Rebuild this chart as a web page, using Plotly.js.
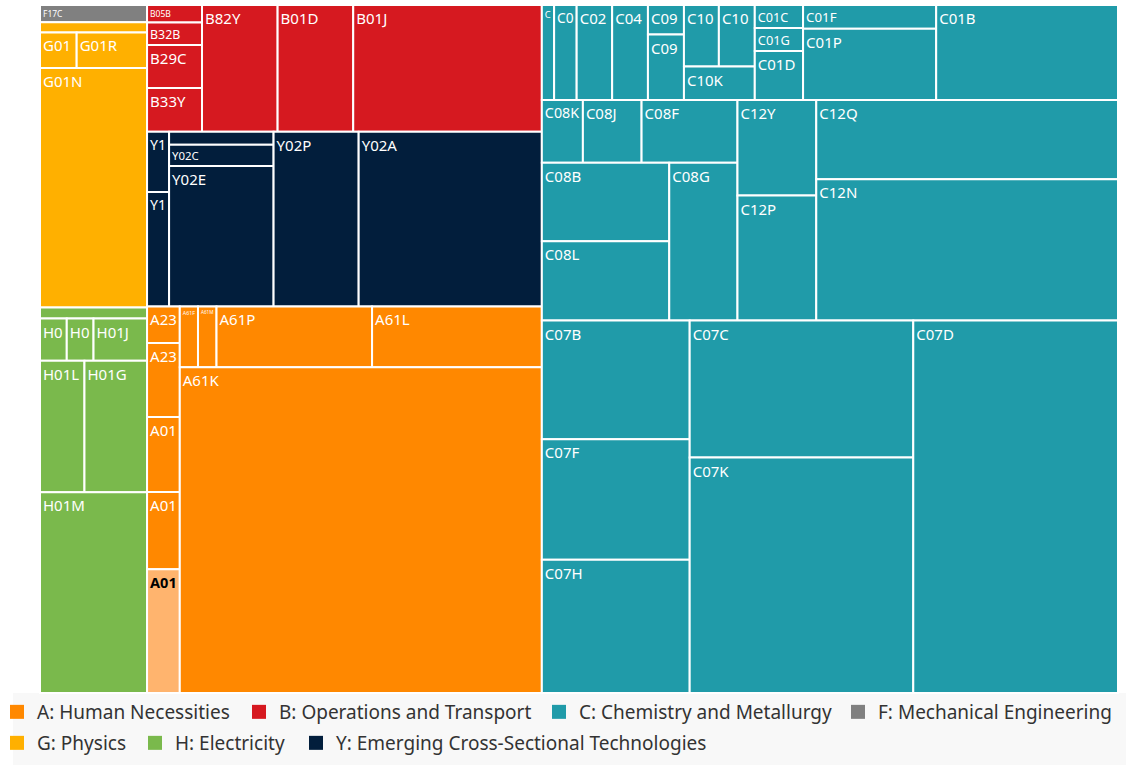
<!DOCTYPE html>
<html>
<head>
<meta charset="utf-8">
<script src="https://cdn.plot.ly/plotly-3.0.1.min.js"></script>
<style>
html, body { margin: 0; padding: 0; background: #ffffff; }
#chart { width: 1126px; height: 765px; }
</style>
</head>
<body>
<div id="chart"></div>
<script>
// ---- Sections (top level), listed in ascending size ----
const sectionIds = ['F', 'G', 'H', 'B', 'Y', 'A', 'C'];
const sectionNames = {
  A: 'A: Human Necessities',
  B: 'B: Operations and Transport',
  C: 'C: Chemistry and Metallurgy',
  F: 'F: Mechanical Engineering',
  G: 'G: Physics',
  H: 'H: Electricity',
  Y: 'Y: Emerging Cross-Sectional Technologies'
};
const legendRows = [['A', 'B', 'C', 'F'], ['G', 'H', 'Y']];

// ---- Classes (second level) ----
const classIds = ['F17', 'G-a', 'G01', 'H-a', 'H01', 'B05', 'B32', 'B29', 'B33', 'B82', 'B01',
  'Y10', 'Y02', 'A23', 'A01', 'A61',
  'C-a', 'C-b', 'C02', 'C04', 'C09', 'C10', 'C01', 'C08', 'C12', 'C07'];
const classParents = ['F', 'G', 'G', 'H', 'H', 'B', 'B', 'B', 'B', 'B', 'B',
  'Y', 'Y', 'A', 'A', 'A',
  'C', 'C', 'C', 'C', 'C', 'C', 'C', 'C', 'C', 'C'];

// ---- Subclasses (leaves) ----
const leafIds = [
  'F17C',
  'G-a1', 'G01-1', 'G01R', 'G01N',
  'H-a1', 'H01-1', 'H01-2', 'H01J', 'H01L', 'H01G', 'H01M',
  'B05B', 'B32B', 'B29C', 'B33Y', 'B82Y', 'B01D', 'B01J',
  'Y10-1', 'Y10-2', 'Y02-a', 'Y02C', 'Y02E', 'Y02P', 'Y02A',
  'A23-1', 'A23-2', 'A01-1', 'A01-2', 'A01-3', 'A61F', 'A61M', 'A61P', 'A61L', 'A61K',
  'C-a1', 'C-b1', 'C02-1', 'C04-1', 'C09-1', 'C09-2', 'C10-1', 'C10-2', 'C10K',
  'C01C', 'C01G', 'C01D', 'C01F', 'C01P', 'C01B',
  'C08K', 'C08J', 'C08F', 'C08B', 'C08L', 'C08G',
  'C12Y', 'C12P', 'C12Q', 'C12N',
  'C07B', 'C07F', 'C07H', 'C07C', 'C07K', 'C07D'
];
const leafLabels = [
  'F17C',
  '', 'G01', 'G01R', 'G01N',
  '', 'H0', 'H0', 'H01J', 'H01L', 'H01G', 'H01M',
  'B05B', 'B32B', 'B29C', 'B33Y', 'B82Y', 'B01D', 'B01J',
  'Y1', 'Y1', '', 'Y02C', 'Y02E', 'Y02P', 'Y02A',
  'A23', 'A23', 'A01', 'A01', 'A01', 'A61F', 'A61M', 'A61P', 'A61L', 'A61K',
  'C', 'C0', 'C02', 'C04', 'C09', 'C09', 'C10', 'C10', 'C10K',
  'C01C', 'C01G', 'C01D', 'C01F', 'C01P', 'C01B',
  'C08K', 'C08J', 'C08F', 'C08B', 'C08L', 'C08G',
  'C12Y', 'C12P', 'C12Q', 'C12N',
  'C07B', 'C07F', 'C07H', 'C07C', 'C07K', 'C07D'
];
const leafParents = [
  'F17',
  'G-a', 'G01', 'G01', 'G01',
  'H-a', 'H01', 'H01', 'H01', 'H01', 'H01', 'H01',
  'B05', 'B32', 'B29', 'B33', 'B82', 'B01', 'B01',
  'Y10', 'Y10', 'Y02', 'Y02', 'Y02', 'Y02', 'Y02',
  'A23', 'A23', 'A01', 'A01', 'A01', 'A61', 'A61', 'A61', 'A61', 'A61',
  'C-a', 'C-b', 'C02', 'C04', 'C09', 'C09', 'C10', 'C10', 'C10',
  'C01', 'C01', 'C01', 'C01', 'C01', 'C01',
  'C08', 'C08', 'C08', 'C08', 'C08', 'C08',
  'C12', 'C12', 'C12', 'C12',
  'C07', 'C07', 'C07', 'C07', 'C07', 'C07'
];
const leafValues = [
  1840,
  1080, 1295, 2485, 25490,
  1190, 1120, 1120, 2240, 5810, 8180, 21380,
  950, 1230, 2360, 2380, 9520, 9520, 23750,
  1320, 2510, 1365, 2205, 14595, 14790, 31840,
  1190, 2410, 2440, 2510, 4030, 1100, 1120, 9400, 10260, 117260,
  1160, 2130, 3350, 3380, 1060, 2340, 2140, 2200, 2350,
  1100, 1110, 2350, 3140, 9430, 17170,
  2560, 3660, 5980, 9950, 10050, 10710,
  7490, 9790, 23810, 42370,
  17460, 17700, 19590, 30440, 52350, 75810
];
const highlightedLeaf = 'A01-3';

// ---- Styles ----
const sectionColors = {
  A: '#FF8800', B: '#D61920', C: '#209BA9', F: '#808080',
  G: '#FFB000', H: '#7AB94C', Y: '#021E3C'
};
const highlightColor = '#FFB46E';
// legend entry anchor positions (px) in the page, per section
const legendPos = { A: [4, 693], B: [246, 693], C: [546, 693], F: [845, 693], G: [4, 724], H: [142, 724], Y: [303, 724] };

// ---- Build node arrays ----
const ids = [], labels = [], parents = [], values = [], texts = [], colors = [], textColors = [];
const sectionOf = {};
sectionIds.forEach(s => {
  sectionOf[s] = s;
  ids.push(s); labels.push(sectionNames[s]); parents.push(''); values.push(0);
  texts.push(''); colors.push(sectionColors[s]); textColors.push('#ffffff');
});
classIds.forEach((c, i) => {
  sectionOf[c] = classParents[i];
  ids.push(c); labels.push(c); parents.push(classParents[i]); values.push(0);
  texts.push(''); colors.push(sectionColors[classParents[i]]); textColors.push('#ffffff');
});
leafIds.forEach((l, i) => {
  const sec = sectionOf[leafParents[i]];
  const hi = l === highlightedLeaf;
  ids.push(l); labels.push(leafLabels[i]); parents.push(leafParents[i]); values.push(leafValues[i]);
  texts.push(hi ? '<b>' + leafLabels[i] + '</b>' : leafLabels[i]);
  colors.push(hi ? highlightColor : sectionColors[sec]);
  textColors.push(hi ? '#000000' : '#ffffff');
});

const treemap = {
  type: 'treemap',
  ids: ids, labels: labels, parents: parents, values: values,
  branchvalues: 'remainder',
  sort: false,
  text: texts,
  textinfo: 'text',
  textposition: 'top left',
  textfont: { family: 'Noto Sans, sans-serif', size: 15, color: textColors },
  marker: { colors: colors, line: { color: '#ffffff', width: 2 }, pad: { t: 0, l: 0, r: 0, b: 0 } },
  tiling: { packing: 'squarify', squarifyratio: 1.42, pad: 0 },
  pathbar: { visible: false },
  hoverinfo: 'label+value',
  domain: { x: [0, 1], y: [0, 1] },
  showlegend: false
};

const legendFont = { family: 'Noto Sans, sans-serif', size: 19, color: '#333333' };
const legendTraces = [];
const layout = {
  width: 1126, height: 765,
  margin: { l: 40, r: 8, t: 5, b: 72, pad: 0 },
  paper_bgcolor: '#ffffff',
  plot_bgcolor: 'rgba(0,0,0,0)',
  xaxis: { visible: false },
  yaxis: { visible: false },
  showlegend: true,
  shapes: [{
    type: 'rect', xref: 'paper', yref: 'paper', layer: 'below',
    x0: (13 - 40) / 1078, x1: (1126 - 40) / 1078, y0: -72 / 688, y1: 0,
    fillcolor: '#F8F8F8', line: { width: 0 }
  }]
};
let k = 0;
legendRows.forEach(row => {
  row.forEach(s => {
    k += 1;
    const lid = k === 1 ? 'legend' : 'legend' + k;
    legendTraces.push({
      type: 'scatter', x: [null], y: [null], mode: 'markers',
      name: sectionNames[s],
      marker: { symbol: 'square', size: 14, color: sectionColors[s] },
      legend: lid, showlegend: true, hoverinfo: 'skip'
    });
    layout[lid] = {
      orientation: 'h', xref: 'container', yref: 'container',
      x: legendPos[s][0] / 1126, y: 1 - legendPos[s][1] / 765,
      xanchor: 'left', yanchor: 'top', indentation: -7,
      font: legendFont, bgcolor: 'rgba(0,0,0,0)', itemclick: false, itemdoubleclick: false
    };
  });
});

Plotly.newPlot('chart', [treemap].concat(legendTraces), layout, { displayModeBar: false });
</script>
</body>
</html>
